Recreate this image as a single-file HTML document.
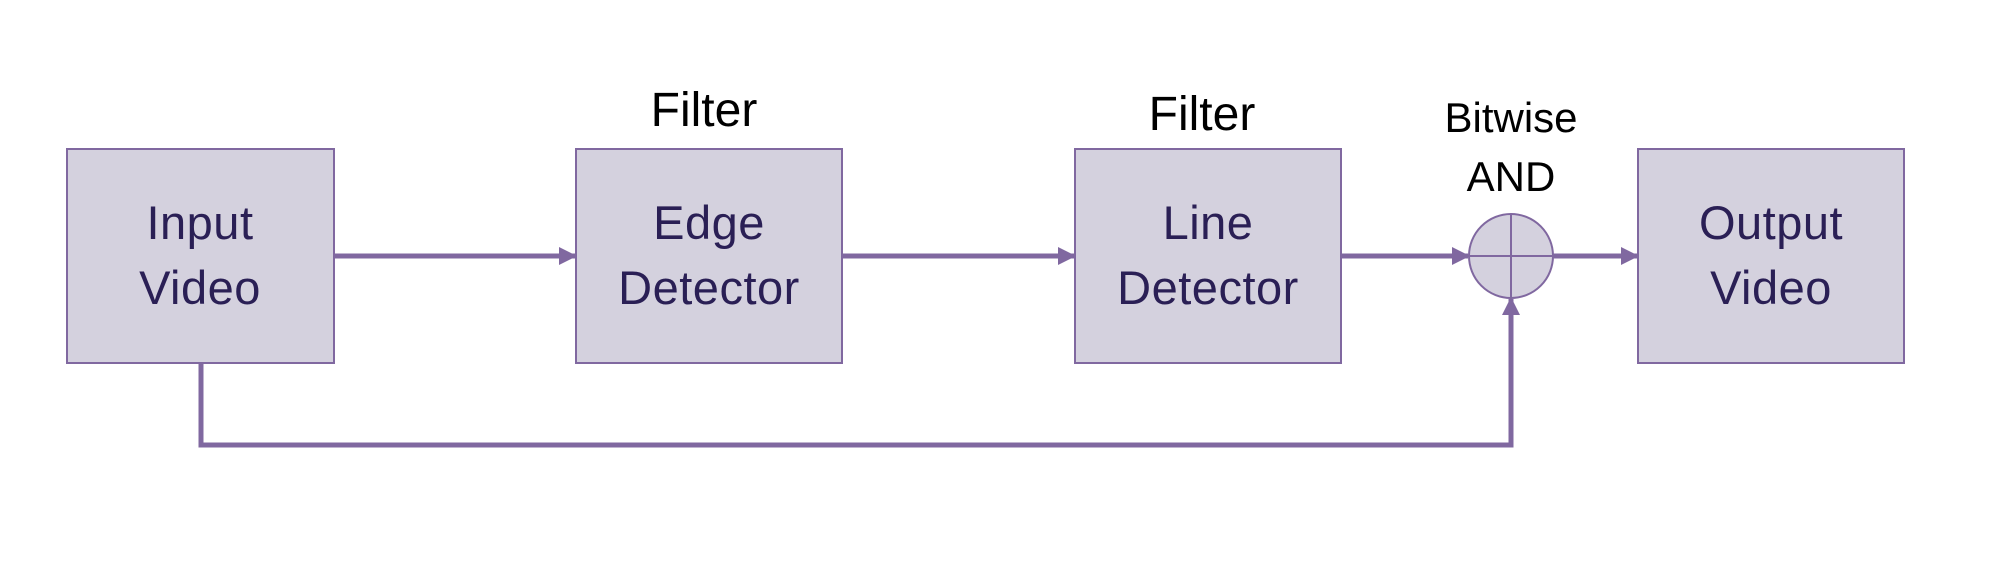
<!DOCTYPE html>
<html><head><style>
html,body{margin:0;padding:0;background:#fff;}
svg{display:block;}
</style></head><body>
<svg width="1990" height="568" viewBox="0 0 1990 568" xmlns="http://www.w3.org/2000/svg">
<defs>
<marker id="ar" markerWidth="18" markerHeight="18" refX="16" refY="9" orient="auto" markerUnits="userSpaceOnUse">
<path d="M0,0 L18,9 L0,18 Z" fill="#8068a0"/>
</marker>
</defs>
<g fill="#d4d1de" stroke="#8068a0" stroke-width="2">
<rect x="67" y="149" width="267" height="214"/>
<rect x="576" y="149" width="266" height="214"/>
<rect x="1075" y="149" width="266" height="214"/>
<rect x="1638" y="149" width="266" height="214"/>
<ellipse cx="1511" cy="256" rx="42" ry="42"/>
<line x1="1511" y1="214" x2="1511" y2="298"/>
<line x1="1469" y1="256" x2="1553" y2="256"/>
</g>
<g stroke="#8068a0" stroke-width="5" fill="none">
<line x1="334" y1="256" x2="575" y2="256" marker-end="url(#ar)"/>
<line x1="842" y1="256" x2="1074" y2="256" marker-end="url(#ar)"/>
<line x1="1341" y1="256" x2="1468" y2="256" marker-end="url(#ar)"/>
<line x1="1553" y1="256" x2="1637" y2="256" marker-end="url(#ar)"/>
<polyline points="201,363 201,445 1511,445 1511,299" marker-end="url(#ar)"/>
</g>
<g font-family="Liberation Sans, sans-serif" font-size="47" fill="#2a1f55" text-anchor="middle" letter-spacing="0.5">
<text x="200" y="239">Input</text><text x="200" y="304">Video</text>
<text x="709" y="239">Edge</text><text x="709" y="304">Detector</text>
<text x="1208" y="239">Line</text><text x="1208" y="304">Detector</text>
<text x="1771" y="239">Output</text><text x="1771" y="304">Video</text>
</g>
<g font-family="Liberation Sans, sans-serif" fill="#000" text-anchor="middle">
<text x="704" y="126" font-size="48">Filter</text>
<text x="1202" y="130" font-size="48">Filter</text>
<text x="1511" y="132" font-size="42">Bitwise</text>
<text x="1511" y="191" font-size="42">AND</text>
</g>
</svg>
</body></html>
